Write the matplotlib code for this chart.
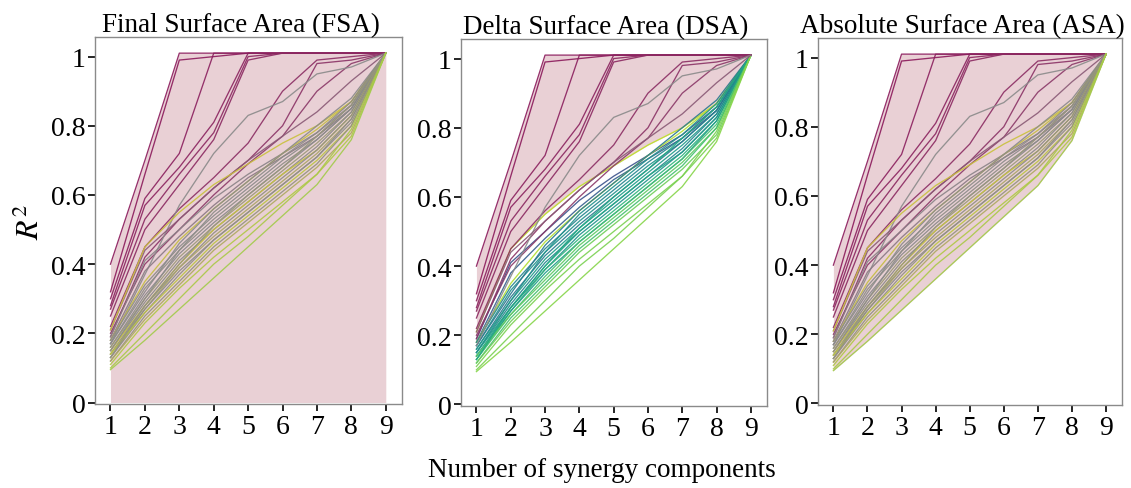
import matplotlib.pyplot as plt
import numpy as np
from matplotlib.colors import LinearSegmentedColormap

plt.rcParams['font.family'] = ['Liberation Serif', 'DejaVu Serif']
plt.rcParams['mathtext.fontset'] = 'stix'

# number of synergy components
n_syn = [1, 2, 3, 4, 5, 6, 7, 8, 9]

# R^2 curves (one per subject/muscle set)
r2_curves = [
    [0.40, 0.70, 1.01, 1.01, 1.01, 1.01, 1.01, 1.01, 1.01],
    [0.32, 0.66, 0.99, 1.00, 1.01, 1.01, 1.01, 1.01, 1.01],
    [0.30, 0.59, 0.72, 1.01, 1.01, 1.01, 1.01, 1.01, 1.01],
    [0.28, 0.57, 0.68, 0.81, 1.01, 1.01, 1.01, 1.01, 1.01],
    [0.27, 0.53, 0.66, 0.78, 1.00, 1.01, 1.01, 1.01, 1.01],
    [0.25, 0.50, 0.63, 0.76, 0.99, 1.01, 1.01, 1.01, 1.01],
    [0.22, 0.45, 0.56, 0.65, 0.75, 0.90, 0.99, 1.00, 1.01],
    [0.19, 0.42, 0.53, 0.62, 0.70, 0.80, 0.98, 0.99, 1.01],
    [0.20, 0.40, 0.50, 0.60, 0.69, 0.77, 0.90, 0.98, 1.01],
    [0.17, 0.37, 0.57, 0.72, 0.83, 0.87, 0.95, 0.97, 1.01],
    [0.21, 0.44, 0.53, 0.62, 0.70, 0.77, 0.84, 0.93, 1.01],
    [0.21, 0.45, 0.55, 0.63, 0.69, 0.75, 0.80, 0.87, 1.01],
    [0.19, 0.41, 0.50, 0.59, 0.66, 0.72, 0.78, 0.86, 1.01],
    [0.18, 0.38, 0.48, 0.57, 0.65, 0.71, 0.77, 0.85, 1.01],
    [0.18, 0.35, 0.47, 0.56, 0.64, 0.72, 0.79, 0.87, 1.01],
    [0.18, 0.34, 0.45, 0.54, 0.62, 0.70, 0.77, 0.86, 1.01],
    [0.17, 0.33, 0.44, 0.53, 0.61, 0.69, 0.76, 0.85, 1.01],
    [0.16, 0.31, 0.43, 0.52, 0.60, 0.68, 0.76, 0.85, 1.01],
    [0.16, 0.30, 0.42, 0.51, 0.59, 0.67, 0.75, 0.84, 1.01],
    [0.15, 0.29, 0.41, 0.50, 0.58, 0.66, 0.74, 0.84, 1.01],
    [0.15, 0.28, 0.40, 0.50, 0.58, 0.66, 0.73, 0.83, 1.01],
    [0.14, 0.28, 0.39, 0.49, 0.57, 0.65, 0.73, 0.83, 1.01],
    [0.14, 0.27, 0.39, 0.48, 0.56, 0.64, 0.72, 0.82, 1.01],
    [0.13, 0.27, 0.38, 0.47, 0.55, 0.63, 0.71, 0.82, 1.01],
    [0.13, 0.26, 0.37, 0.47, 0.55, 0.63, 0.71, 0.81, 1.01],
    [0.14, 0.26, 0.36, 0.46, 0.54, 0.62, 0.70, 0.80, 1.01],
    [0.12, 0.25, 0.35, 0.45, 0.53, 0.61, 0.69, 0.80, 1.01],
    [0.17, 0.32, 0.46, 0.56, 0.64, 0.72, 0.80, 0.88, 1.01],
    [0.15, 0.30, 0.44, 0.55, 0.63, 0.71, 0.78, 0.87, 1.01],
    [0.13, 0.28, 0.40, 0.51, 0.60, 0.68, 0.77, 0.86, 1.01],
    [0.12, 0.24, 0.34, 0.44, 0.52, 0.60, 0.68, 0.78, 1.01],
    [0.11, 0.23, 0.33, 0.42, 0.50, 0.58, 0.66, 0.77, 1.01],
    [0.10, 0.20, 0.30, 0.40, 0.48, 0.57, 0.66, 0.79, 1.01],
    [0.095, 0.18, 0.27, 0.36, 0.45, 0.54, 0.63, 0.76, 1.01],
]

# colour variable of each curve (FSA / ASA palette)
hue_fsa = [0.0, 0.0, 0.02, 0.03, 0.04, 0.05, 0.06, 0.08, 0.10, 0.35, 0.20,
           0.72, 0.33, 0.30, 0.70, 0.36, 0.40, 0.35, 0.55, 0.38, 0.74, 0.40,
           0.60, 0.36, 0.42, 0.80, 0.45, 0.35, 0.38, 0.50, 0.62, 0.85, 0.88, 0.92]
# colour variable in DSA (viridis for the lower curves, None = keep FSA palette)
hue_dsa = [None] * 11 + [0.90, 0.25, 0.30, 0.88, 0.45, 0.50, 0.40, 0.55, 0.45,
                         0.60, 0.50, 0.65, 0.55, 0.70, 0.75, 0.70, 0.40, 0.50,
                         0.60, 0.78, 0.80, 0.80, 0.82]
dsa_bound = 11  # curve bounding the DSA band from below

titles = ['Final Surface Area (FSA)', 'Delta Surface Area (DSA)', 'Absolute Surface Area (ASA)']

cmap_main = LinearSegmentedColormap.from_list(
    'mg', [(0.0, '#8b1a5b'), (0.35, '#8a8a8a'), (0.55, '#9a9a78'),
           (0.72, '#c9c13c'), (1.0, '#93cf4f')])
cmap_low = plt.get_cmap('viridis')
fill_col = '#e9d0d5'

curves = np.array(r2_curves)
x = np.array(n_syn)

fig = plt.figure(figsize=(11.31, 4.89), dpi=100)
boxes = [[0.084, 0.172, 0.2714, 0.7505],
         [0.4076, 0.168, 0.2706, 0.7505],
         [0.7233, 0.170, 0.2688, 0.7505]]

for k, box in enumerate(boxes):
    ax = fig.add_axes(box)
    top = curves.max(axis=0)
    if k == 0:
        ax.fill_between(x, 0, top, color=fill_col, lw=0)
    elif k == 1:
        ax.fill_between(x, curves[dsa_bound], top, color=fill_col, lw=0)
    else:
        ax.fill_between(x, curves.min(axis=0), top, color=fill_col, lw=0)

    order = range(len(curves)) if k != 1 else list(range(11, len(curves))) + list(range(11))
    for i in order:
        if k == 1 and hue_dsa[i] is not None:
            c = cmap_low(hue_dsa[i])
        else:
            c = cmap_main(hue_fsa[i])
        ax.plot(x, curves[i], color=c, lw=0.95, alpha=0.9)

    ax.set_xlim(0.55, 9.47)
    ax.set_ylim(-0.004, 1.057)
    ax.set_xticks(n_syn)
    ax.set_yticks([0, 0.2, 0.4, 0.6, 0.8, 1.0])
    ax.set_yticklabels(['0', '0.2', '0.4', '0.6', '0.8', '1'])
    ax.tick_params(labelsize=20, direction='out', length=5, width=1.2, color='black', pad=2)
    for s in ax.spines.values():
        s.set_color('#8a8a8a')
        s.set_linewidth(1.0)
    ax.set_title(titles[k], fontsize=19.5, pad=4, x=0.474)

fig.text(0.532, 0.038, 'Number of synergy components', ha='center', va='center', fontsize=19.5)
fig.text(0.027, 0.545, '$R^2$', rotation=90, ha='center', va='center', fontsize=23)

fig.savefig('out.png', dpi=100)
